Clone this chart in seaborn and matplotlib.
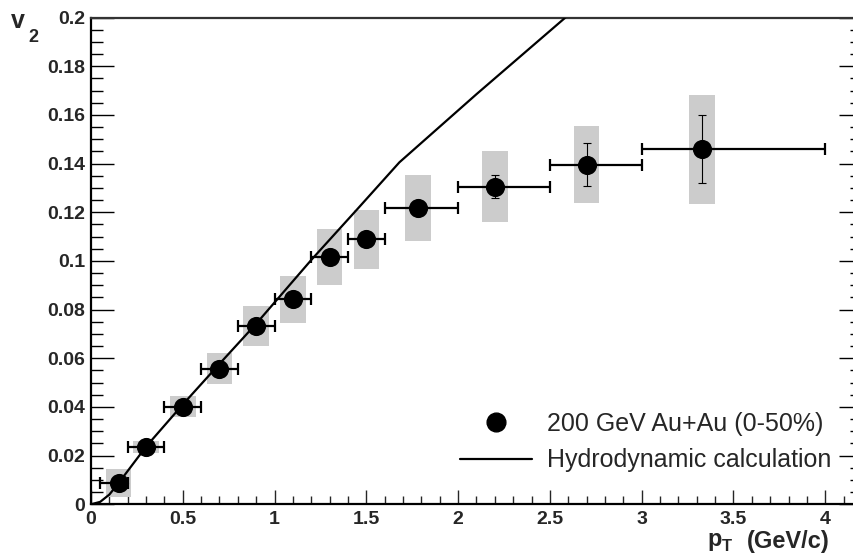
import numpy as np
import pandas as pd
import matplotlib
matplotlib.use("Agg")
import matplotlib.pyplot as plt
from matplotlib.lines import Line2D
from matplotlib.ticker import MultipleLocator, FormatStrFormatter
import seaborn as sns

# ---- data ----
pt = [0.15, 0.3, 0.5, 0.7, 0.9, 1.1, 1.3, 1.5, 1.78, 2.2, 2.7, 3.33]
v2 = [0.0088, 0.0236, 0.0401, 0.0557, 0.0733, 0.0842, 0.1016, 0.1088, 0.1217, 0.1305, 0.1396, 0.1458]
pt_lo = [0.05, 0.2, 0.4, 0.6, 0.8, 1.0, 1.2, 1.4, 1.6, 2.0, 2.5, 3.0]
pt_hi = [0.2, 0.4, 0.6, 0.8, 1.0, 1.2, 1.4, 1.6, 2.0, 2.5, 3.0, 4.0]
stat_err = [0.001, 0.001, 0.001, 0.0012, 0.0015, 0.0018, 0.002, 0.0025, 0.003, 0.0047, 0.009, 0.014]
sys_err = [0.0058, 0.0026, 0.0044, 0.0064, 0.0081, 0.0096, 0.0115, 0.0123, 0.0137, 0.0147, 0.016, 0.0225]

hydro_pt = [0.0, 0.05, 0.1, 0.15, 0.3, 0.5, 0.7, 0.9, 1.2, 1.45, 1.68, 2.1, 2.6]
hydro_v2 = [0.0, 0.001, 0.004, 0.0087, 0.0237, 0.041, 0.0577, 0.0742, 0.1004, 0.1212, 0.1405, 0.1685, 0.201]

data_label = "200 GeV Au+Au (0-50%)"
hydro_label = "Hydrodynamic calculation"

df = pd.DataFrame({"pt": pt, "v2": v2})
hydro = pd.DataFrame({"pt": hydro_pt, "v2": hydro_v2})

# ---- style ----
sns.set_theme(style="ticks")
plt.rcParams["font.family"] = ["Liberation Sans", "DejaVu Sans"]

W, H = 854, 556
fig = plt.figure(figsize=(W / 100, H / 100), dpi=100)
# frame: left edge at x=91 px, right edge just beyond the picture
ax = fig.add_axes([91 / W, (H - 504.3) / H, (862 - 91) / W, (504.3 - 17.5) / H])

# systematic boxes
box_w = 0.14
ax.bar(df["pt"], [2 * s for s in sys_err], bottom=[y - s for y, s in zip(v2, sys_err)],
       width=box_w, color="#cccccc", linewidth=0, zorder=1)

# hydro curve
sns.lineplot(data=hydro, x="pt", y="v2", sort=False, estimator=None, color="black",
             linewidth=1.6, ax=ax, zorder=3)

# pT bin widths
xerr = [[p - lo for p, lo in zip(pt, pt_lo)], [hi - p for p, hi in zip(pt, pt_hi)]]
ax.errorbar(pt, v2, xerr=xerr, fmt="none", ecolor="black", elinewidth=1.6,
            capsize=4, capthick=1.6, zorder=4)
# statistical errors
ax.errorbar(pt, v2, yerr=stat_err, fmt="none", ecolor="black", elinewidth=0.8,
            capsize=3, capthick=0.8, zorder=4)

sns.scatterplot(data=df, x="pt", y="v2", color="black", s=190, linewidth=0,
                ax=ax, zorder=5, legend=False)

ax.set_xlim(0, 4.2)
ax.set_ylim(0, 0.2)
ax.set_xlabel("")
ax.set_ylabel("")

ax.xaxis.set_major_locator(MultipleLocator(0.5))
ax.xaxis.set_minor_locator(MultipleLocator(0.1))
ax.yaxis.set_major_locator(MultipleLocator(0.02))
ax.yaxis.set_minor_locator(MultipleLocator(0.005))
ax.xaxis.set_major_formatter(FormatStrFormatter("%g"))
ax.yaxis.set_major_formatter(FormatStrFormatter("%g"))

ax.tick_params(axis="y", which="both", direction="in", left=True, right=True, width=1.0,
               color="black")
ax.tick_params(axis="y", which="major", length=16.5, pad=4)
ax.tick_params(axis="y", which="minor", length=8.5)
ax.tick_params(axis="x", which="both", direction="in", bottom=True, top=False, width=1.0)
ax.tick_params(axis="x", which="major", length=10, pad=5)
ax.tick_params(axis="x", which="minor", length=5.5)
for lab in ax.get_xticklabels() + ax.get_yticklabels():
    lab.set_fontweight("bold")
    lab.set_fontsize(14)

for side in ["left", "bottom", "top", "right"]:
    ax.spines[side].set_linewidth(1.6)
    ax.spines[side].set_color("black")
ax.spines["top"].set_color("#333333")

# axis titles
fig.text(11 / W, 1 - 28.5 / H, "v", fontsize=18, fontweight="bold", va="baseline")
fig.text(28 / W, 1 - 42 / H, "2", fontsize=13, fontweight="bold", va="baseline")
fig.text(707 / W, 1 - 546 / H, "p", fontsize=17, fontweight="bold", va="baseline")
fig.text(722 / W, 1 - 551 / H, "T", fontsize=12, fontweight="bold", va="baseline")
fig.text(830 / W, 1 - 548 / H, "(GeV/c)", fontsize=17, fontweight="bold", va="baseline", ha="right")

# legend
handles = [
    Line2D([], [], marker="o", color="black", linestyle="none", markersize=13.5),
    Line2D([], [], color="black", linewidth=1.6),
]
ax.legend(handles, [data_label, hydro_label], loc="center left",
          bbox_to_anchor=(460 / W, 1 - 442 / H), bbox_transform=fig.transFigure,
          frameon=False, borderpad=0, borderaxespad=0, fontsize=18,
          handlelength=2.88, handletextpad=0.6, labelspacing=0.5)

fig.savefig("out.png", dpi=100)
